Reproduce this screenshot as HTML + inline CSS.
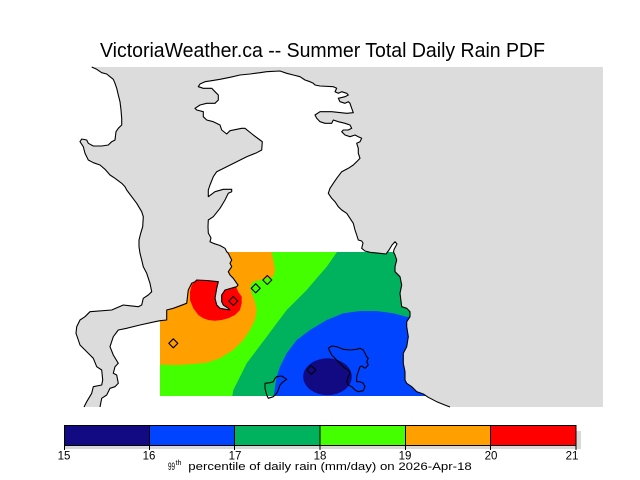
<!DOCTYPE html>
<html>
<head>
<meta charset="utf-8">
<style>
html,body{margin:0;padding:0;background:#fff;}
svg{display:block;}
</style>
</head>
<body>
<svg width="640" height="480" viewBox="0 0 640 480" xmlns="http://www.w3.org/2000/svg">
<defs>
<clipPath id="water">
<polygon points="100,407 101.7,398.3 106.7,395 110,388.3 115,386.7 118.3,383.3 116.7,375 113.3,373.3 115,366.7 118.3,363.3 113.3,355 110,346.7 113.3,336.7 118.3,330 126.7,328.3 140,325 155,321.7 160,320.7 166.7,320 166.7,310 173.3,308.3 186.7,303.3 188.3,290 191.7,283.3 195,281.7 196.7,280 207,280.5 218.3,281.7 216.7,288.3 215,298.3 216.7,305 220,308.3 230,310 228.3,308.3 223.3,305 221.7,301.7 221.7,295 225,290 236.7,286.7 238,285 233.3,278.3 230,275 228.3,271.7 231.7,266.7 230,263.3 231.7,260 230,256.7 228.3,253.3 226.7,251.7 225,248.3 220,245.5 213.3,243.3 210,241.7 211,238 208.3,233 208,226.7 208.3,220 213.3,216.7 220,208.3 225,200 228.3,193.3 231.7,191.7 231.7,189.3 223.3,189.3 215,191.7 208.3,196.7 208.3,190 210,185 213.3,176.7 216.7,171.7 226.7,166.7 236.7,161.7 246.7,156.7 256.7,152.7 261.7,150 262.3,141.7 260,140 253.3,135 245,128.3 241.7,128.3 230,130.7 226.7,134 221.7,130 220,125 213.3,121.7 206.7,120 203.3,116.7 203.3,111.7 196.7,110 195,108.3 200,105 206.7,103.3 215,103.3 218.3,100 218.3,95 215,91.7 211.7,88.3 203.3,88.3 198.3,86.7 200,84 205,81.7 211.7,80.7 220,79.3 230,77.3 240,75 250,74 260,72.7 266.7,71.7 280,71 286.7,73.3 293.3,75 300,76.7 305,80 310,81.7 313.3,83.3 315,85 320,86 333.3,86.7 336.7,88.3 335,91.7 338.3,93.3 341.7,91.7 346.7,93.3 348.3,95 345,96.7 338.3,98.3 340,101.7 345,103.3 348.3,101.7 350,103.3 351.7,108.3 353.3,112.7 346.7,113.3 331.7,111.7 320,111.7 315,115 316.7,118.3 320,121.7 325,123.3 331.7,123.3 333.3,120 338.3,121.7 345,123.3 350,125 351.7,128.3 348.3,130 343.3,130 341.7,131.7 345,135 350,136.7 355,135 358.3,136.7 361.7,138.3 360,141.7 356.7,143.3 358.3,148.3 358.3,153.3 360,158.3 356.7,161.7 353.3,165 348.3,168.3 341.7,171.7 336.7,178.3 333.3,183.3 330,188.3 328.3,193.3 331.7,198.3 335,201.7 338.3,206.7 341.7,210 346.7,213.3 350,218.3 353.3,223.3 355,230 356.7,235 358.3,240 361.7,241 363,243 361.7,248.3 365,251 370,252.3 380,253.3 386,254 389,250 392,245 395,241.7 397,244 394,249.5 393.5,252 395,255 396.7,260 395,266.7 395,271.7 400,276.7 401.7,285 400,293.3 401.7,306.7 406.7,308.3 410,311.7 410,316.7 406.7,321.7 406.7,326.7 408.3,336.7 406.7,346.7 403.3,353.3 403.3,363.3 405,371.7 405,380 406.7,383.3 411.7,386.7 416.7,391.7 423.3,394 428.3,397.3 436.7,401.7 446.7,405.7 450,407"/>
</clipPath>
<clipPath id="drect"><rect x="160" y="252" width="280" height="144"/></clipPath>
</defs>

<!-- Land -->
<polygon fill="#dcdcdc" points="91.7,67 96.7,69.3 101.7,72.7 106.7,74 110,76.7 113.3,79.3 115,83.3 116.7,88.3 118.3,95 120,101.7 121,110 121.7,118.3 121.7,125 118.3,128.3 116,131.7 115,140 111.7,141.7 108.3,145 101.7,146 93.3,146 88.3,143.3 86.7,140 81.7,139 80,141.7 83.3,146.7 85,153.3 88.3,160 93.3,162.7 100,165 105,169.3 110,175 115,178.3 121.7,183.3 125,186.7 126.7,190 131.7,196.7 136.7,203.3 141.7,211.7 143.3,216.7 142.7,226.7 140.7,233.3 139,240 139,246.7 140,253.3 141.7,260 143.3,266.7 146.7,273.3 150,283.3 151.7,291.7 148.3,295 143.3,298.3 141.7,305 138.3,306.7 123.3,305 111.7,310 90,311.7 85,316.7 80,320 76.7,326.7 76,333.3 78.3,340 80,345 85,350 90,355 93.3,358.3 96.7,366.7 101.7,370 102.7,380 101.7,385 93.3,386.7 91.7,393.3 86.7,401.7 84,407 603,407 603,67"/>

<!-- Water -->
<rect x="0" y="0" width="640" height="480" fill="#ffffff" clip-path="url(#water)"/>

<!-- Data field -->
<g clip-path="url(#water)">
<g clip-path="url(#drect)">
<rect x="160" y="252" width="280" height="144" fill="#44ff00"/>
<polygon fill="#ffa000" points="150,240 271.7,240 271.7,252 273.3,260 275,270 273.3,276.7 266.7,278.3 260,280 253.3,281.7 250,286.7 251.7,293.3 255,301.7 256.7,310 255,320 250,330 243.3,340 233.3,350 220,358.3 206.7,362.7 193.3,364 180,365 170,365 150,364"/>
<polygon fill="#ff0000" points="196.7,279 218.3,281.7 228,286 236,287 238.3,291.7 241.7,296.7 241.7,303.3 240,310 235,315 228.3,318.3 221.7,320 215,320.7 208.3,320 203.3,318.3 198.3,315 193.3,308.3 190,300 190,291.7 191.7,285"/>
<polygon fill="#00b25e" points="337,240 450,240 450,400 231.7,400 233.3,390 240,376.7 246.7,363.3 256.7,350 266.7,336.7 276.7,323.3 286.7,310 296.7,300 306.7,290 316.7,278.3 326.7,266.7 337,252"/>
<polygon fill="#0044ff" points="450,318 406.7,316.7 393.3,313.3 376.7,311 360,311 343.3,313.3 326.7,320 310,330 296.7,340 286.7,353.3 280,366.7 276.7,376.7 275,386.7 273.3,400 450,400"/>
<ellipse cx="327.5" cy="376.7" rx="24.3" ry="18.4" fill="#120a82"/>
</g>
</g>

<!-- Coastlines -->
<g fill="none" stroke="#000" stroke-width="1.1" stroke-linejoin="round">
<polyline points="91.7,67 96.7,69.3 101.7,72.7 106.7,74 110,76.7 113.3,79.3 115,83.3 116.7,88.3 118.3,95 120,101.7 121,110 121.7,118.3 121.7,125 118.3,128.3 116,131.7 115,140 111.7,141.7 108.3,145 101.7,146 93.3,146 88.3,143.3 86.7,140 81.7,139 80,141.7 83.3,146.7 85,153.3 88.3,160 93.3,162.7 100,165 105,169.3 110,175 115,178.3 121.7,183.3 125,186.7 126.7,190 131.7,196.7 136.7,203.3 141.7,211.7 143.3,216.7 142.7,226.7 140.7,233.3 139,240 139,246.7 140,253.3 141.7,260 143.3,266.7 146.7,273.3 150,283.3 151.7,291.7 148.3,295 143.3,298.3 141.7,305 138.3,306.7 123.3,305 111.7,310 90,311.7 85,316.7 80,320 76.7,326.7 76,333.3 78.3,340 80,345 85,350 90,355 93.3,358.3 96.7,366.7 101.7,370 102.7,380 101.7,385 93.3,386.7 91.7,393.3 86.7,401.7 84,407"/>
<polyline points="100,407 101.7,398.3 106.7,395 110,388.3 115,386.7 118.3,383.3 116.7,375 113.3,373.3 115,366.7 118.3,363.3 113.3,355 110,346.7 113.3,336.7 118.3,330 126.7,328.3 140,325 155,321.7 160,320.7 166.7,320 166.7,310 173.3,308.3 186.7,303.3 188.3,290 191.7,283.3 195,281.7 196.7,280 207,280.5 218.3,281.7 216.7,288.3 215,298.3 216.7,305 220,308.3 230,310 228.3,308.3 223.3,305 221.7,301.7 221.7,295 225,290 236.7,286.7 238,285 233.3,278.3 230,275 228.3,271.7 231.7,266.7 230,263.3 231.7,260 230,256.7 228.3,253.3 226.7,251.7 225,248.3 220,245.5 213.3,243.3 210,241.7 211,238 208.3,233 208,226.7 208.3,220 213.3,216.7 220,208.3 225,200 228.3,193.3 231.7,191.7 231.7,189.3 223.3,189.3 215,191.7 208.3,196.7 208.3,190 210,185 213.3,176.7 216.7,171.7 226.7,166.7 236.7,161.7 246.7,156.7 256.7,152.7 261.7,150 262.3,141.7 260,140 253.3,135 245,128.3 241.7,128.3 230,130.7 226.7,134 221.7,130 220,125 213.3,121.7 206.7,120 203.3,116.7 203.3,111.7 196.7,110 195,108.3 200,105 206.7,103.3 215,103.3 218.3,100 218.3,95 215,91.7 211.7,88.3 203.3,88.3 198.3,86.7 200,84 205,81.7 211.7,80.7 220,79.3 230,77.3 240,75 250,74 260,72.7 266.7,71.7 280,71 286.7,73.3 293.3,75 300,76.7 305,80 310,81.7 313.3,83.3 315,85 320,86 333.3,86.7 336.7,88.3 335,91.7 338.3,93.3 341.7,91.7 346.7,93.3 348.3,95 345,96.7 338.3,98.3 340,101.7 345,103.3 348.3,101.7 350,103.3 351.7,108.3 353.3,112.7 346.7,113.3 331.7,111.7 320,111.7 315,115 316.7,118.3 320,121.7 325,123.3 331.7,123.3 333.3,120 338.3,121.7 345,123.3 350,125 351.7,128.3 348.3,130 343.3,130 341.7,131.7 345,135 350,136.7 355,135 358.3,136.7 361.7,138.3 360,141.7 356.7,143.3 358.3,148.3 358.3,153.3 360,158.3 356.7,161.7 353.3,165 348.3,168.3 341.7,171.7 336.7,178.3 333.3,183.3 330,188.3 328.3,193.3 331.7,198.3 335,201.7 338.3,206.7 341.7,210 346.7,213.3 350,218.3 353.3,223.3 355,230 356.7,235 358.3,240 361.7,241 363,243 361.7,248.3 365,251 370,252.3 380,253.3 386,254 389,250 392,245 395,241.7 397,244 394,249.5 393.5,252 395,255 396.7,260 395,266.7 395,271.7 400,276.7 401.7,285 400,293.3 401.7,306.7 406.7,308.3 410,311.7 410,316.7 406.7,321.7 406.7,326.7 408.3,336.7 406.7,346.7 403.3,353.3 403.3,363.3 405,371.7 405,380 406.7,383.3 411.7,386.7 416.7,391.7 423.3,394 428.3,397.3 436.7,401.7 446.7,405.7 450,407"/>
<!-- islands -->
<polygon points="328.3,348.3 331.7,346 336.7,346.7 343.3,349.3 350,350 356.7,349.3 360,348.3 363.3,350 365,353.3 366.7,356.7 368.3,358.3 366.7,361.7 368.3,365 365,368.3 361.7,366 360,366.7 358.3,371.7 356.7,376.7 356.7,381.7 360,381.7 363.3,383.3 365,386.7 363.3,390.7 358.3,391.7 355,390 351.7,386.7 348.3,385 346.7,381.7 348.3,376.7 350,373.3 348.3,370 345,368.3 341.7,365 338.3,361.7 335,358.3 331.7,355 330,351.7"/>
<polygon points="276.7,376.7 281.7,376 286.7,379.3 283.3,381.7 280,385 278.3,390 276.7,393.3 273.3,396.7 268.3,398.3 266.7,395 265,388.3 265,383.3 270,382.7 273.3,381.7 275,378.3"/>
<!-- station markers -->
<polygon points="173.3,338.8 177.8,343.3 173.3,347.8 168.8,343.3"/>
<polygon points="233.3,296.5 237.8,301 233.3,305.5 228.8,301"/>
<polygon points="255.7,283.8 260.2,288.3 255.7,292.8 251.2,288.3"/>
<polygon points="267.3,275.5 271.8,280 267.3,284.5 262.8,280"/>
<polygon points="311.3,365.5 315.8,370 311.3,374.5 306.8,370"/>
</g>

<!-- Title -->
<text x="100" y="57" font-family="Liberation Sans, sans-serif" font-size="20" fill="#000" textLength="445" lengthAdjust="spacingAndGlyphs">VictoriaWeather.ca -- Summer Total Daily Rain PDF</text>

<!-- Colorbar shadow -->
<rect x="65" y="445" width="516" height="4" fill="#d9d9d9" shape-rendering="crispEdges"/>
<rect x="576" y="431" width="5" height="18" fill="#d9d9d9" shape-rendering="crispEdges"/>

<!-- Colorbar -->
<g stroke="#000" stroke-width="1" shape-rendering="crispEdges">
<rect x="64.5" y="425.5" width="85" height="20" fill="#120a82"/>
<rect x="149.5" y="425.5" width="85" height="20" fill="#0044ff"/>
<rect x="234.5" y="425.5" width="85.5" height="20" fill="#00b25e"/>
<rect x="320" y="425.5" width="85.5" height="20" fill="#44ff00"/>
<rect x="405.5" y="425.5" width="85" height="20" fill="#ffa000"/>
<rect x="490.5" y="425.5" width="85.5" height="20" fill="#ff0000"/>
<line x1="64.5" y1="445" x2="64.5" y2="450"/>
<line x1="149.5" y1="445" x2="149.5" y2="450"/>
<line x1="234.5" y1="445" x2="234.5" y2="450"/>
<line x1="320" y1="445" x2="320" y2="450"/>
<line x1="405.5" y1="445" x2="405.5" y2="450"/>
<line x1="490.5" y1="445" x2="490.5" y2="450"/>
<line x1="576" y1="445" x2="576" y2="450"/>
</g>

<g font-family="Liberation Sans, sans-serif" font-size="11.5" fill="#000" text-anchor="middle">
<text x="64" y="459.5">15</text>
<text x="149" y="459.5">16</text>
<text x="235" y="459.5">17</text>
<text x="320" y="459.5">18</text>
<text x="405" y="459.5">19</text>
<text x="491" y="459.5">20</text>
<text x="572" y="459.5">21</text>
</g>

<text x="168" y="470" font-family="Liberation Sans, sans-serif" font-size="11" fill="#000" textLength="7" lengthAdjust="spacingAndGlyphs">99</text>
<text x="175.5" y="465" font-family="Liberation Sans, sans-serif" font-size="7" fill="#000" textLength="6" lengthAdjust="spacingAndGlyphs">th</text>
<text x="188.3" y="470" font-family="Liberation Sans, sans-serif" font-size="11" fill="#000" textLength="283.5" lengthAdjust="spacingAndGlyphs">percentile of daily rain (mm/day) on 2026-Apr-18</text>
</svg>
</body>
</html>
